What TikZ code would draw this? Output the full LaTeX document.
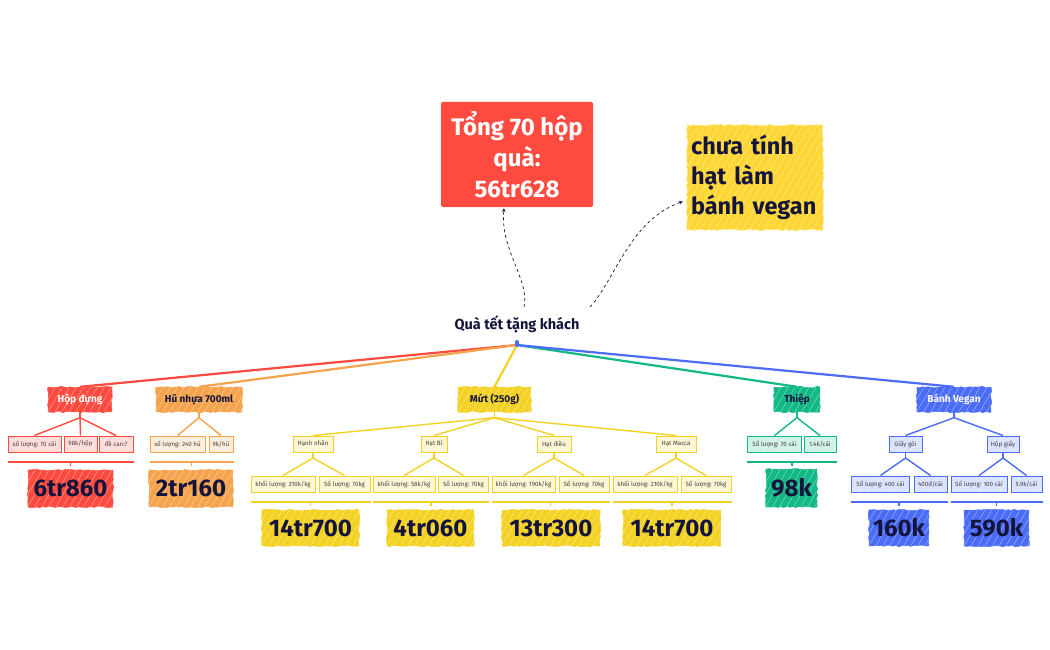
\documentclass[tikz,border=0pt]{standalone}
\usepackage{fontspec}
\setmainfont{Fira Sans}
\usetikzlibrary{calc,decorations.pathmorphing}
\definecolor{redc}{HTML}{FF4A3F}
\definecolor{orangec}{HTML}{F5A34D}
\definecolor{yellowc}{HTML}{F3D224}
\definecolor{notec}{HTML}{FFD633}
\definecolor{greenc}{HTML}{12B886}
\definecolor{bluec}{HTML}{4A6CF7}
\definecolor{inkc}{HTML}{14143C}
\tikzset{
  hachure/.style={path picture={
    \foreach \i in {-70,-63,...,170}
      \draw[white,opacity=.45,line width=.5pt] ([xshift=\i pt]path picture bounding box.south west) -- ++(-60:130);
  }},
  rough/.style={decorate,decoration={random steps,segment length=3pt,amplitude=.8pt}},
  branch/.style={fill=#1,draw=#1,rough,hachure,inner sep=0pt,minimum height=25pt,font=\fontsize{10}{12}\selectfont\bfseries},
  leaf/.style={draw=#1,fill=#1!20,line width=1pt,hachure,inner sep=0pt,minimum height=16pt,text=black!75,font=\fontsize{6.2}{8}\selectfont},
  result/.style={fill=#1,draw=#1,rough,hachure,inner sep=0pt,text=inkc,font=\fontsize{24}{28}\selectfont\bfseries},
  stem/.style={draw=#1,line width=1.4pt},
  trunk/.style={draw=#1,line width=2.2pt},
  dashlink/.style={draw=inkc,dashed,line width=.7pt,-stealth}
}
\begin{document}
\begin{tikzpicture}[x=1pt,y=-1pt]
\pgfmathsetseed{7}
\useasboundingbox (0,0) rectangle (1050,650);
\fill[white] (0,0) rectangle (1050,650);
% top boxes
\node[fill=redc,rounded corners=1.5pt,text=white,minimum width=152pt,minimum height=105pt,inner sep=0pt,align=center,font=\fontsize{24}{31}\selectfont\bfseries] (total) at (517,154.5) {Tổng 70 hộp\\quà:\\56tr628};
\node[fill=notec,draw=notec!50,rough,hachure,text=inkc,inner sep=4pt,text width=128pt,minimum height=105pt,align=left,font=\fontsize{23.5}{30}\selectfont\bfseries] (note) at (755,177.5) {chưa tính\\hạt làm\\bánh vegan};
\node[text=inkc,inner sep=1pt,font=\fontsize{14.5}{16}\selectfont\bfseries] (root) at (517,324) {Quà tết tặng khách};
\coordinate (hub) at (517,345);
% level 1
\node[branch=redc,text=white,minimum width=64pt] (hopdung) at (80,399.5) {Hộp đựng};
\node[branch=orangec,text=inkc,minimum width=86pt] (hunhua) at (199,399.5) {Hũ nhựa 700ml};
\node[branch=yellowc,text=inkc,minimum width=73pt] (mut) at (494.5,399.5) {Mứt (250g)};
\node[branch=greenc,text=inkc,minimum width=46pt] (thiep) at (797,399.5) {Thiệp};
\node[branch=bluec,text=white,minimum width=74pt] (banhvegan) at (954,399.5) {Bánh Vegan};
\draw[trunk=redc] (hub) -- (hopdung.north);
\draw[trunk=orangec] (hub) -- (hunhua.north);
\draw[trunk=yellowc] (hub) -- (mut.north);
\draw[trunk=greenc] (hub) -- (thiep.north);
\draw[trunk=bluec] (hub) -- (banhvegan.north);
\draw[bluec,line width=4pt,line cap=round] (517,342) -- (hub);
\draw[dashlink] (524,307) .. controls (530,280) and (500,250) .. ([xshift=-13pt,yshift=-1pt]total.south);
\draw[dashlink] (590,307) .. controls (615,280) and (630,220) .. ([xshift=-4pt,yshift=-24pt]note.west);
% level 2 and 3 boxes
\foreach \nm/\cx/\cy/\w/\c/\txt in {
  hopsl/34.5/444/53/redc/{số lượng: 70 cái},
  hopgia/80.5/444/33/redc/{98k/hộp},
  hopdecan/116/444/34/redc/{đề can:?},
  husl/177.5/444/55/orangec/{số lượng: 240 hũ},
  hugia/221/444/24/orangec/{9k/hũ},
  hanh/313/444/40/yellowc/{Hạnh nhân},
  bi/434/444/26/yellowc/{Hạt Bí},
  dieu/554/444/34/yellowc/{Hạt điều},
  macca/676/444/40/yellowc/{Hạt Macca},
  hanhkl/283/484/64/yellowc/{khối lượng: 210k/kg},
  hanhsl/344.5/484/51/yellowc/{Số lượng: 70kg},
  bikl/404/484/62/yellowc/{khối lượng: 58k/kg},
  bisl/463.5/484/50/yellowc/{Số lượng: 70kg},
  dieukl/523.5/484/63/yellowc/{khối lượng: 190k/kg},
  dieusl/584/484/50/yellowc/{Số lượng: 70kg},
  maccakl/645/484/64/yellowc/{khối lượng: 210k/kg},
  maccasl/706/484/50/yellowc/{Số lượng: 70kg},
  thiepsl/774.5/444/54/greenc/{Số lượng: 70 cái},
  thiepgia/820/444/32/greenc/{1.4k/cái},
  giaygoi/905.5/444/33/bluec/{Giấy gói},
  hopgiay/1003/444/32/bluec/{Hộp giấy},
  goisl/880.5/484/58/bluec/{Số lượng: 400 cái},
  goigia/930.5/484/33/bluec/{400đ/cái},
  giaysl/979/484/56/bluec/{Số lượng: 100 cái},
  giaygia/1026.5/484/31/bluec/{5.9k/cái}%
}
  \node[leaf=\c,minimum width=\w pt] (\nm) at (\cx,\cy) {\txt};
% stems
\foreach \p/\kids/\c in {
  hopdung/{hopsl,hopgia,hopdecan}/redc,
  hunhua/{husl,hugia}/orangec,
  mut/{hanh,bi,dieu,macca}/yellowc,
  hanh/{hanhkl,hanhsl}/yellowc,
  bi/{bikl,bisl}/yellowc,
  dieu/{dieukl,dieusl}/yellowc,
  macca/{maccakl,maccasl}/yellowc,
  thiep/{thiepsl,thiepgia}/greenc,
  banhvegan/{giaygoi,hopgiay}/bluec,
  giaygoi/{goisl,goigia}/bluec,
  hopgiay/{giaysl,giaygia}/bluec%
}{
  \coordinate (\p j) at ([yshift=-5.5pt]\p.south);
  \draw[stem=\c] (\p.south) -- (\p j);
  \foreach \k in \kids
    \draw[stem=\c] (\p j) -- (\k.north);
}
% brackets and totals
\foreach \nm/\kl/\kr/\c/\cx/\cy/\w/\h/\txt in {
  rhop/hopsl/hopdecan/redc/70.5/488.5/85/37/6tr860,
  rhu/husl/hugia/orangec/191/488.5/84/37/2tr160,
  rhanh/hanhkl/hanhsl/yellowc/310.5/528/97/36/14tr700,
  rbi/bikl/bisl/yellowc/430.5/528/87/36/4tr060,
  rdieu/dieukl/dieusl/yellowc/551/528/98/36/13tr300,
  rmacca/maccakl/maccasl/yellowc/672/528/98/36/14tr700,
  rthiep/thiepsl/thiepgia/greenc/791.5/488/51/38/98k,
  rgoi/goisl/goigia/bluec/899/528/60/36/160k,
  rgiay/giaysl/giaygia/bluec/996.5/528/65/36/590k%
}{
  \coordinate (\nm l) at ([yshift=-9pt]\kl.south west);
  \coordinate (\nm r) at ([yshift=-9pt]\kr.south east);
  \coordinate (\nm t) at ($(\nm l)!.5!(\nm r)$);
  \draw[\c,line width=2pt] (\nm l) -- (\nm r);
  \draw[\c,line width=1.6pt] (\nm t) -- ++(0,4);
  \node[result=\c,minimum width=\w pt,minimum height=\h pt] (\nm) at (\cx,\cy) {\txt};
}
\end{tikzpicture}
\end{document}
